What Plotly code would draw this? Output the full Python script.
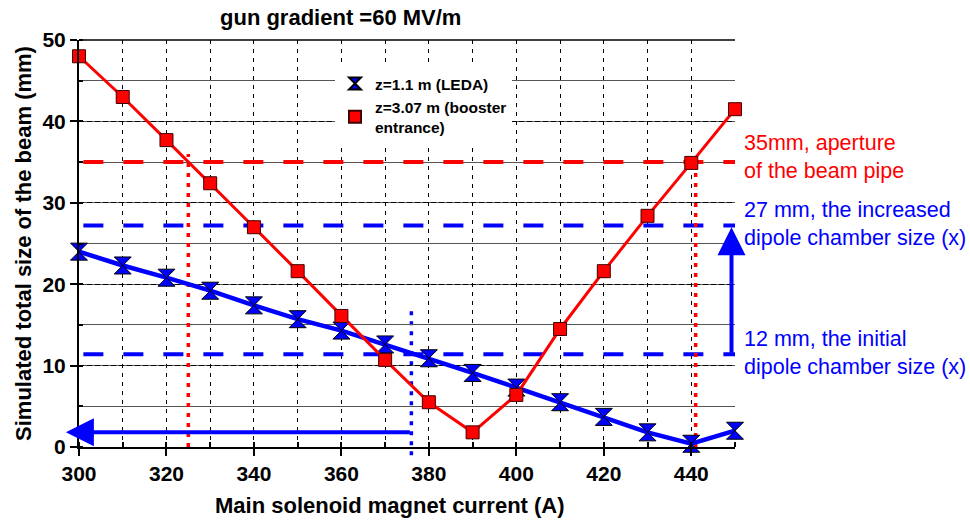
import plotly.graph_objects as go

# Main solenoid current (A)
current = [300, 310, 320, 330, 340, 350, 360, 370, 380, 390, 400, 410, 420, 430, 440, 450]

# Simulated total beam size (mm)
size_leda = [24.0, 22.3, 20.8, 19.2, 17.4, 15.7, 14.3, 12.6, 10.9, 9.1, 7.3, 5.5, 3.7, 1.8, 0.4, 2.0]
size_booster = [48.0, 43.0, 37.7, 32.4, 27.0, 21.6, 16.1, 10.7, 5.5, 1.8, 6.4, 14.5, 21.6, 28.4, 34.9, 41.5]

# Reference apertures (mm)
aperture_pipe = 35.0
dipole_increased = 27.2
dipole_initial = 11.4

# Marked currents (A)
cut_low = 325
cut_high = 441
cut_leda = 376

FONT = "Liberation Sans, Arial, sans-serif"
RED = "#ff0000"
BLUE = "#0000ff"

# plot area in pixels, used to place free text
L, R, T, B = 79, 735, 40, 447
W, H = R - L, B - T


def px_x(p):
    return (p - L) / W


def px_y(p):
    return (B - p) / H


leda_marker = dict(symbol="hourglass", size=17, color=BLUE, line=dict(color="black", width=1))
booster_marker = dict(symbol="square", size=13, color=RED, line=dict(color="#400000", width=1))

fig = go.Figure()

fig.add_trace(go.Scatter(
    x=current, y=size_leda, mode="lines+markers", showlegend=False,
    line=dict(color=BLUE, width=4.5), marker=leda_marker, cliponaxis=False,
))
fig.add_trace(go.Scatter(
    x=current, y=size_booster, mode="lines+markers", showlegend=False,
    line=dict(color=RED, width=3), marker=booster_marker, cliponaxis=False,
))
# legend entries (marker only)
fig.add_trace(go.Scatter(x=[None], y=[None], mode="markers", name="z=1.1 m (LEDA)",
                         marker=dict(leda_marker, size=15)))
fig.add_trace(go.Scatter(x=[None], y=[None], mode="markers", name="z=3.07 m (booster<br>entrance)",
                         marker=dict(booster_marker, size=14)))

shapes = []
# horizontal reference levels
for yv, col in [(aperture_pipe, RED), (dipole_increased, BLUE), (dipole_initial, BLUE)]:
    shapes.append(dict(type="line", xref="x", yref="y", x0=301, x1=450, y0=yv, y1=yv,
                       line=dict(color=col, width=4, dash="20px,20px"), layer="between"))
# vertical dotted markers
shapes.append(dict(type="line", xref="x", yref="y", x0=cut_low, x1=cut_low, y0=0, y1=36,
                   line=dict(color=RED, width=3.5, dash="4px,6px"), layer="between"))
shapes.append(dict(type="line", xref="x", yref="y", x0=cut_high, x1=cut_high, y0=0, y1=34.5,
                   line=dict(color=RED, width=3.5, dash="4px,6px"), layer="between"))
shapes.append(dict(type="line", xref="x", yref="paper", x0=cut_leda, x1=cut_leda, y0=-0.02, y1=17 / 50,
                   line=dict(color=BLUE, width=3.5, dash="4px,6px"), layer="between"))
# top frame line
shapes.append(dict(type="line", xref="paper", yref="paper", x0=0, x1=1, y0=1, y1=1,
                   line=dict(color="black", width=1.5)))

annotations = [
    dict(text="<b>gun gradient =60 MV/m</b>", x=px_x(340), y=px_y(17), xref="paper", yref="paper",
         yanchor="middle", showarrow=False, font=dict(family=FONT, size=22, color="black")),
    dict(text="<b>Main solenoid magnet current (A)</b>", x=px_x(390), y=px_y(505), xref="paper",
         yref="paper", yanchor="middle", showarrow=False, font=dict(family=FONT, size=22, color="black")),
    # arrows
    dict(x=297, y=1.8, ax=cut_leda, ay=1.8, xref="x", yref="y", axref="x", ayref="y",
         showarrow=True, arrowhead=2, arrowsize=1.4, arrowwidth=4, arrowcolor=BLUE, text=""),
    dict(x=449.2, y=27.0, ax=449.2, ay=dipole_initial, xref="x", yref="y", axref="x", ayref="y",
         showarrow=True, arrowhead=2, arrowsize=1.4, arrowwidth=4, arrowcolor=BLUE, text=""),
    # right-side labels
    dict(text="35mm, aperture<br>of the beam pipe", x=px_x(742), y=px_y(157),
         xref="paper", yref="paper", xanchor="left", yanchor="middle", align="left",
         showarrow=False, font=dict(family=FONT, size=21.5, color=RED)),
    dict(text="27 mm, the increased<br>dipole chamber size (x)", x=px_x(742), y=px_y(224),
         xref="paper", yref="paper", xanchor="left", yanchor="middle", align="left",
         showarrow=False, font=dict(family=FONT, size=21.5, color=BLUE)),
    dict(text="12 mm, the initial<br>dipole chamber size (x)", x=px_x(742), y=px_y(353),
         xref="paper", yref="paper", xanchor="left", yanchor="middle", align="left",
         showarrow=False, font=dict(family=FONT, size=21.5, color=BLUE)),
]

fig.update_layout(
    width=970, height=525,
    margin=dict(l=L, r=970 - R, t=T, b=525 - B),
    paper_bgcolor="white", plot_bgcolor="white",
    font=dict(family=FONT, color="black"),
    shapes=shapes,
    annotations=annotations,
    showlegend=True,
    legend=dict(x=px_x(335), y=px_y(67), xanchor="left", yanchor="top",
                bgcolor="white", borderwidth=0,
                font=dict(family=FONT, size=15.5, color="black", weight="bold"),
                itemsizing="constant", itemwidth=30, tracegroupgap=0),
)

fig.update_xaxes(
    range=[300, 450], dtick=20, tick0=300,
    showline=True, linecolor="black", linewidth=2,
    ticks="outside", ticklen=7, tickwidth=2, tickcolor="black",
    tickfont=dict(family=FONT, size=21, color="black", weight="bold"),
    showgrid=True, gridcolor="black", gridwidth=1, griddash="4px,5px",
    minor=dict(dtick=10, ticks="inside", ticklen=5, tickcolor="black",
               showgrid=True, gridcolor="black", gridwidth=1, griddash="4px,5px"),
    zeroline=False,
)
fig.update_yaxes(
    range=[0, 50], dtick=10,
    showline=True, linecolor="black", linewidth=2,
    ticks="outside", ticklen=7, tickwidth=2, tickcolor="black",
    tickfont=dict(family=FONT, size=21, color="black", weight="bold"),
    showgrid=True, gridcolor="black", gridwidth=1, griddash="5px,3px",
    minor=dict(dtick=5, ticks="inside", ticklen=4, tickcolor="black",
               showgrid=True, gridcolor="#555555", gridwidth=1, griddash="solid"),
    zeroline=False,
    title=dict(text="Simulated total size of the beam (mm)", standoff=5,
               font=dict(family=FONT, size=22, color="black", weight="bold")),
)

fig.write_html("out.html")
